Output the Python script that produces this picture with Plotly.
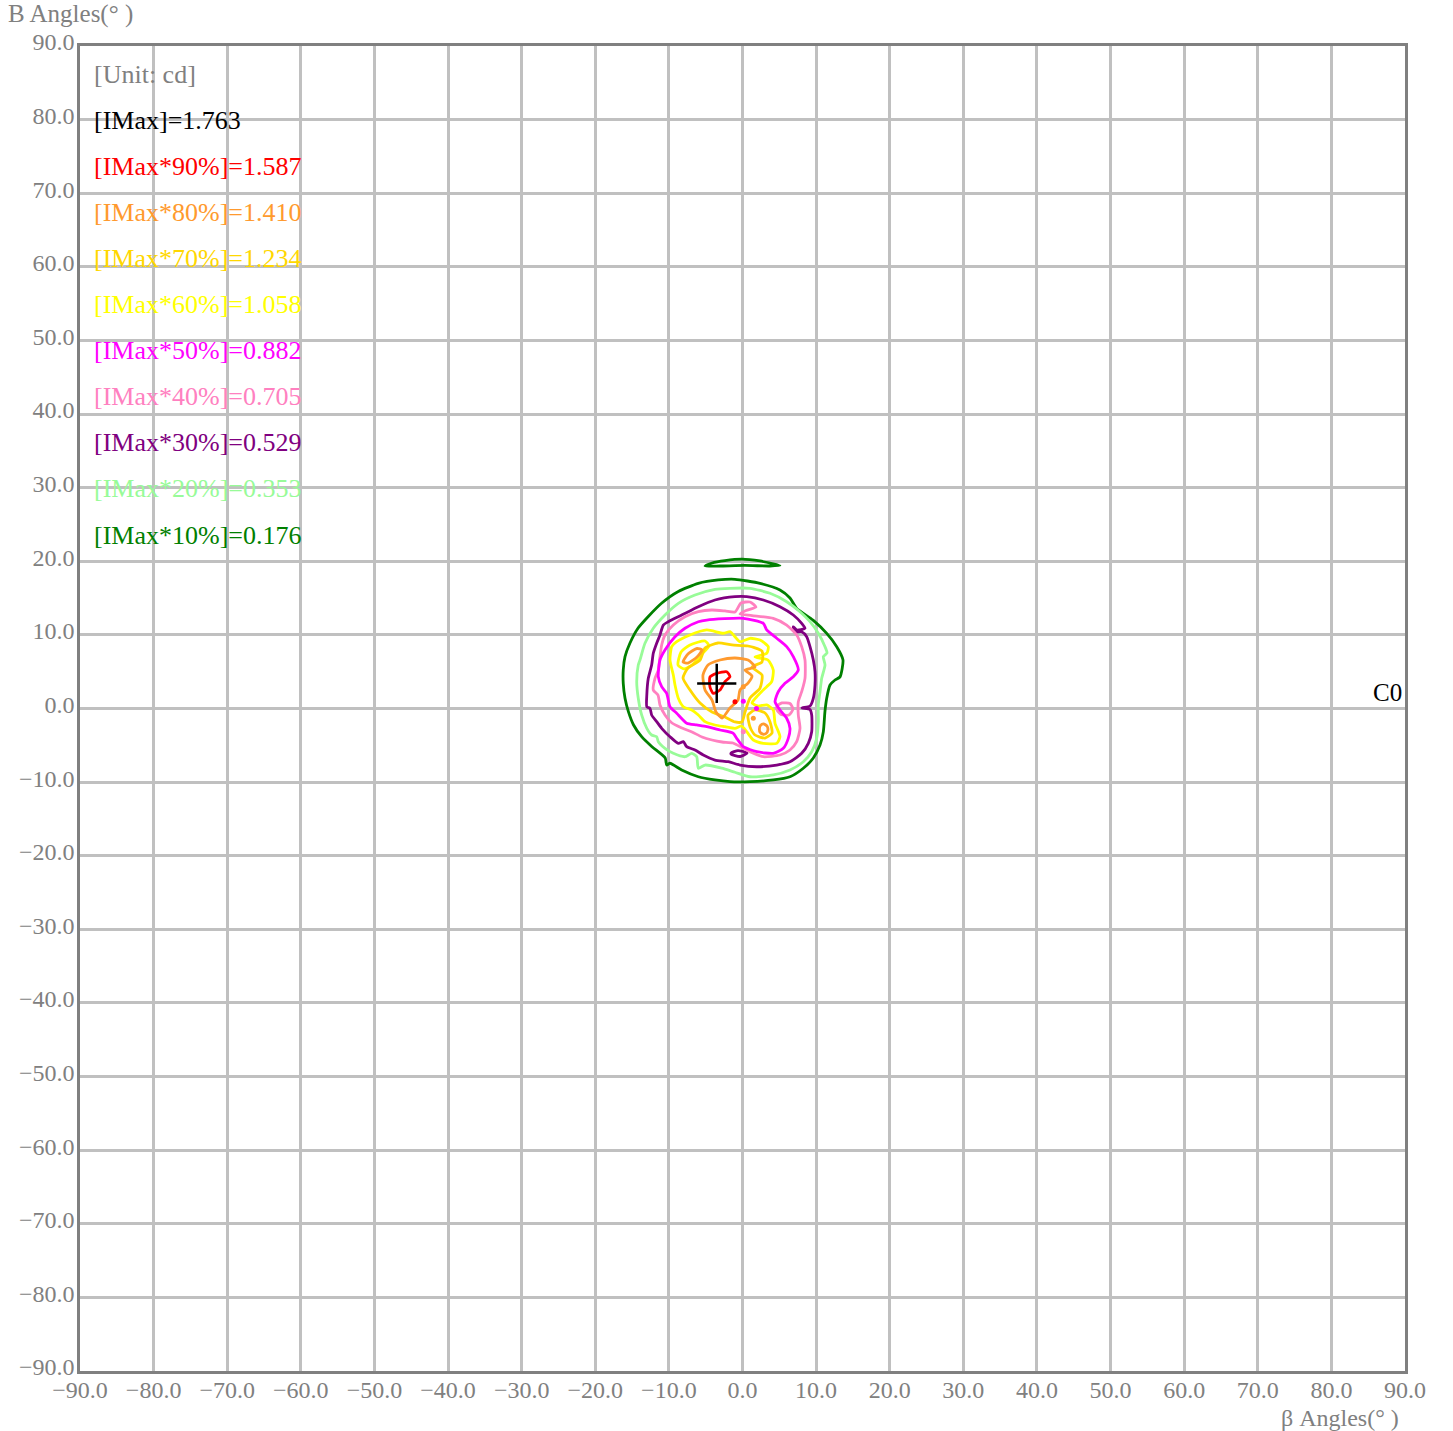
import plotly.graph_objects as go

# ---------------- data (degrees) ----------------
imax = 1.763
levels_pct = [90, 80, 70, 60, 50, 40, 30, 20, 10]
level_values = [1.587, 1.410, 1.234, 1.058, 0.882, 0.705, 0.529, 0.353, 0.176]
level_colors = ["#FF0000", "#FF9A2E", "#FFD700", "#FFFF00", "#FF00FF",
                "#FF80C0", "#800080", "#98FB98", "#008000"]
max_pos = (-3.5, 3.4)

# isocandela contour traces (beta, B)
iso10_main = [(-1.02, 17.55), (2.38, 17.0), (5.09, 16.1), (6.45, 15.01), (7.36, 13.6),
              (9.58, 12.0), (11.44, 10.2), (12.8, 8.4), (13.65, 6.6), (13.25, 4.3),
              (12.57, 3.87), (11.89, 3.19), (11.44, 1.39), (11.2, -0.43), (10.98, -3.15),
              (10.53, -4.96), (9.62, -6.72), (8.26, -8.12), (6.45, -9.27), (4.18, -9.71),
              (1.02, -9.94), (-1.7, -9.94), (-3.74, -9.71), (-6.0, -9.27), (-8.26, -8.35),
              (-9.85, -7.44), (-10.3, -7.68), (-10.5, -6.72), (-12.3, -5.19), (-13.7, -3.83),
              (-14.8, -2.24), (-15.5, -0.43), (-15.96, 1.39), (-16.2, 3.42), (-16.2, 5.23),
              (-15.96, 7.04), (-15.3, 8.86), (-14.2, 10.9), (-12.8, 12.5), (-11.0, 14.3),
              (-8.72, 15.9), (-6.0, 17.0), (-3.29, 17.46), (-1.02, 17.55)]
iso10_top = [(-5.09, 19.36), (-4.14, 19.77), (-2.38, 20.1), (-0.07, 20.3), (2.38, 20.04),
             (4.0, 19.7), (5.09, 19.43), (3.74, 19.36), (0.34, 19.43), (-3.06, 19.36),
             (-5.09, 19.36)]
iso20_main = [(-1.7, 16.33), (1.02, 16.33), (3.74, 15.65), (6.0, 14.51), (7.81, 13.15),
              (9.17, 11.79), (10.3, 10.22), (11.21, 8.4), (11.48, 7.54), (10.98, 7.04),
              (11.21, 5.91), (10.76, 4.1), (10.53, 2.28), (10.3, 0.48), (10.3, -1.79),
              (10.08, -4.05), (9.4, -5.87), (8.26, -7.23), (6.45, -8.36), (4.18, -9.03),
              (1.02, -9.27), (-1.02, -8.66), (-2.83, -8.1), (-5.09, -7.68), (-6.0, -8.12),
              (-6.22, -6.55), (-6.9, -6.09), (-7.81, -6.55), (-9.4, -6.09), (-10.53, -5.41),
              (-11.44, -4.51), (-11.66, -3.83), (-12.34, -3.6), (-13.0, -2.69), (-13.7, -0.88),
              (-14.16, 1.39), (-14.37, 3.64), (-14.16, 5.91), (-13.93, 6.59), (-13.25, 8.86),
              (-12.12, 10.9), (-10.53, 12.7), (-8.72, 14.29), (-6.45, 15.42), (-3.74, 16.19),
              (-1.7, 16.33)]
iso30_main = [(-1.02, 15.19), (0.57, 15.19), (2.83, 14.74), (5.09, 13.83), (6.9, 12.7),
              (8.04, 11.57), (8.49, 10.9), (7.36, 10.67), (6.9, 11.1), (7.13, 10.43),
              (8.04, 10.43), (8.72, 9.75), (9.17, 8.4), (9.62, 6.59), (9.85, 5.0),
              (9.85, 3.19), (9.62, 1.39), (9.17, 0.34), (8.08, 0.07), (9.17, -0.14),
              (9.4, -0.88), (9.4, -3.15), (8.94, -4.73), (8.04, -6.09), (6.45, -7.23),
              (4.65, -7.68), (1.93, -7.91), (-0.34, -7.68), (-1.93, -7.23), (-3.74, -7.0),
              (-5.33, -6.32), (-6.45, -5.64), (-7.58, -5.19), (-8.04, -4.51), (-8.72, -4.73),
              (-9.85, -3.83), (-10.98, -2.69), (-11.66, -1.79), (-12.34, -0.88), (-12.57, 0.03),
              (-13.0, 0.24), (-13.0, 1.83), (-12.8, 4.1), (-12.34, 5.91), (-12.12, 7.5),
              (-11.66, 8.86), (-11.21, 9.99), (-10.76, 11.34), (-10.08, 11.79), (-8.26, 12.7),
              (-6.0, 13.83), (-3.74, 14.74), (-1.02, 15.19)]
iso30_small = [(-1.56, -6.05), (-0.61, -5.71), (0.61, -6.05), (-0.34, -6.52),
               (-1.56, -6.2), (-1.56, -6.05)]
iso40_main = [(-6.0, 13.15), (-4.18, 13.38), (-2.38, 13.25), (-1.02, 13.11), (-0.2, 14.33),
              (1.02, 14.47), (1.83, 13.79), (0.48, 13.31), (-0.34, 12.84), (1.29, 12.63),
              (4.18, 12.25), (6.0, 11.34), (7.36, 9.99), (8.04, 8.4), (8.49, 6.59),
              (8.49, 4.1), (8.04, 2.28), (7.58, 0.92), (7.58, -0.88), (7.81, -2.69),
              (7.36, -4.51), (6.45, -5.64), (5.09, -6.32), (2.83, -6.55), (1.47, -6.09),
              (0.11, -5.41), (-1.29, -4.69), (-2.78, -4.55), (-4.14, -4.28), (-5.5, -3.87),
              (-6.86, -3.19), (-8.22, -2.65), (-9.58, -1.97), (-10.53, -0.88), (-11.21, 0.48),
              (-11.48, 1.83), (-12.12, 2.51), (-11.89, 4.1), (-11.44, 5.23), (-11.21, 7.04),
              (-10.98, 8.63), (-10.53, 9.99), (-9.4, 11.34), (-7.81, 12.47), (-6.0, 13.15)]
iso40_small = [(4.69, 0.34), (5.36, 0.75), (6.45, 0.68), (6.86, -0.07), (6.32, -0.88),
               (5.23, -0.82), (4.69, -0.2), (4.69, 0.34)]
iso50_main = [(-4.86, 12.02), (0.11, 12.25), (2.83, 11.57), (3.29, 10.67), (4.65, 9.54),
              (6.0, 8.4), (6.9, 7.04), (7.58, 5.23), (6.9, 4.32), (5.77, 3.42),
              (4.86, 2.28), (4.42, 0.92), (5.09, -0.2), (6.0, -1.33), (6.45, -2.69),
              (6.22, -4.05), (5.54, -5.41), (4.18, -6.09), (1.93, -5.87), (0.11, -5.19),
              (-0.79, -4.05), (-1.25, -3.37), (-3.06, -2.92), (-4.86, -2.47), (-6.22, -2.24),
              (-7.58, -2.01), (-8.94, -0.65), (-9.85, 0.24), (-10.3, 2.06), (-10.98, 2.96),
              (-11.44, 4.32), (-11.21, 6.59), (-10.53, 7.95), (-9.17, 9.75), (-7.81, 10.9),
              (-6.0, 11.79), (-4.86, 12.02)]
iso60_main = [(-9.62, 8.4), (-8.94, 9.07), (-7.13, 9.99), (-4.86, 10.67), (-2.61, 10.22),
              (-1.7, 10.43), (-1.02, 9.75), (-0.34, 9.07), (1.02, 9.54), (2.38, 9.31),
              (3.5, 8.4), (3.29, 7.5), (1.7, 7.0), (3.46, 6.59), (4.18, 5.23),
              (3.97, 3.64), (3.29, 2.96), (1.93, 1.6), (1.29, 0.75), (2.11, 0.34),
              (3.29, 0.48), (4.18, -0.2), (4.42, -2.01), (5.09, -3.83), (4.65, -4.73),
              (2.83, -4.73), (1.47, -4.28), (0.57, -3.15), (-0.11, -2.38), (-1.02, -2.69),
              (-2.38, -2.47), (-3.74, -2.24), (-5.09, -1.79), (-6.0, -0.88), (-6.9, -0.2),
              (-8.04, 0.24), (-8.72, 1.39), (-9.17, 3.19), (-9.4, 4.55), (-9.85, 6.59),
              (-9.62, 8.4)]
iso60_finger = [(-8.76, 5.91), (-8.35, 7.68), (-7.13, 8.63), (-5.09, 9.17), (-4.56, 8.49),
                (-5.77, 7.13), (-6.86, 5.91), (-7.95, 5.37), (-8.76, 5.91)]
iso70_main = [(-8.08, 4.14), (-7.41, 5.5), (-5.77, 6.59), (-5.09, 8.22), (-3.33, 8.9),
              (-1.43, 8.63), (0.75, 8.49), (2.65, 7.81), (2.65, 6.32), (1.29, 5.64),
              (2.65, 4.55), (2.38, 2.78), (1.02, 1.43), (0.34, -0.48), (-0.07, -1.83),
              (-1.02, -1.83), (-2.38, -1.15), (-4.14, -0.48), (-5.77, 0.75), (-7.13, 2.51),
              (-8.08, 4.14)]
iso70_lobe = [(0.75, -0.88), (1.7, -0.2), (3.06, -0.61), (3.74, -1.83), (4.01, -3.33),
              (3.06, -4.01), (1.7, -3.6), (1.02, -2.51), (0.75, -0.88)]
iso80_main = [(-5.37, 4.55), (-4.69, 5.91), (-3.06, 6.59), (-1.02, 6.86), (0.75, 6.59),
              (1.7, 5.64), (0.34, 5.23), (1.29, 4.42), (0.75, 3.46), (-0.34, 2.51),
              (-0.61, 1.15), (-1.7, 0.07), (-2.78, -1.29), (-3.6, -0.48), (-4.14, 1.15),
              (-5.09, 2.51), (-5.37, 4.55)]
iso80_ellipse = [(-8.08, 6.32), (-7.41, 7.41), (-6.18, 8.15), (-5.5, 7.95), (-6.18, 7.0),
                 (-7.41, 6.18), (-8.08, 6.32)]
iso80_ring = [(2.85, -2.08), (3.35, -2.4), (3.45, -2.9), (3.2, -3.4), (2.85, -3.5),
              (2.4, -3.25), (2.3, -2.75), (2.45, -2.3), (2.85, -2.08)]
iso90_main = [(-4.42, 4.28), (-3.5, 4.78), (-2.15, 5.0), (-1.7, 4.32), (-2.38, 3.64),
              (-3.06, 2.51), (-3.97, 2.06), (-4.42, 2.92), (-4.42, 4.28)]

# tiny closed contours (islands)
dots = [((0.11, 1.0), "#FF00FF"), ((1.9, 0.0), "#FF00FF"), ((0.11, -3.15), "#FF80C0"),
        ((0.11, 2.96), "#FF9A2E"), ((1.47, -1.33), "#FF9A2E"), ((-1.02, 0.92), "#FF0000")]

contours = [
    (iso10_main, "#008000"), (iso10_top, "#008000"),
    (iso20_main, "#98FB98"),
    (iso30_main, "#800080"), (iso30_small, "#800080"),
    (iso40_main, "#FF80C0"), (iso40_small, "#FF80C0"),
    (iso50_main, "#FF00FF"),
    (iso60_main, "#FFFF00"), (iso60_finger, "#FFFF00"),
    (iso70_main, "#FFD700"), (iso70_lobe, "#FFD700"),
    (iso80_main, "#FF9A2E"), (iso80_ellipse, "#FF9A2E"), (iso80_ring, "#FF9A2E"),
    (iso90_main, "#FF0000"),
]

ticks = list(range(-90, 91, 10))
tick_text = [f"{v:.1f}".replace("-", "\u2212") for v in ticks]

FONT = "Liberation Serif"
GREY = "#808080"

W, H = 1453, 1431
ML, MR, MT, MB = 80, 48, 46, 60
PH = H - MT - MB  # plot height in px

fig = go.Figure()
for pts, col in contours:
    fig.add_trace(go.Scatter(
        x=[p[0] for p in pts], y=[p[1] for p in pts], mode="lines",
        line=dict(color=col, width=2.8, shape="spline", smoothing=0.6),
        hoverinfo="skip", showlegend=False))
for (px, py), col in dots:
    fig.add_trace(go.Scatter(x=[px], y=[py], mode="markers",
                             marker=dict(color=col, size=5),
                             hoverinfo="skip", showlegend=False))
fig.add_trace(go.Scatter(x=[max_pos[0]], y=[max_pos[1]], mode="markers",
                         marker=dict(symbol="cross-thin", size=28,
                                     line=dict(color="black", width=2.5)),
                         hoverinfo="skip", showlegend=False))

# legend text block
legend_lines = [("[Unit: cd]", GREY), (f"[IMax]={imax:.3f}", "black")]
for pct, val, col in zip(levels_pct, level_values, level_colors):
    legend_lines.append((f"[IMax*{pct}%]={val:.3f}", col))
for i, (txt, col) in enumerate(legend_lines):
    fig.add_annotation(x=0, y=1 - (28 + 46.1 * i) / PH, xref="paper", yref="paper",
                       text=txt, showarrow=False, xanchor="left", yanchor="middle",
                       xshift=12, font=dict(family=FONT, size=26, color=col))

fig.add_annotation(x=1.0, y=0, xref="paper", yref="y", text="C0", showarrow=False,
                   xanchor="right", yanchor="bottom", xshift=-1, yshift=1,
                   font=dict(family=FONT, size=25, color="black"))
fig.add_annotation(x=0, y=1 + 32 / PH, xref="paper", yref="paper",
                   text="B Angles(° )", showarrow=False, xanchor="left", yanchor="middle",
                   xshift=-74, font=dict(family=FONT, size=25, color=GREY))
fig.add_annotation(x=1.0, y=-47 / PH, xref="paper", yref="paper",
                   text="β Angles(° )", showarrow=False, xanchor="right", yanchor="middle",
                   xshift=-4, font=dict(family=FONT, size=24, color=GREY))

axis_common = dict(range=[-90, 90], tickvals=ticks, ticktext=tick_text, showgrid=True,
                   gridcolor="#C0C0C0", gridwidth=2.5, zeroline=False, showline=True,
                   linecolor=GREY, linewidth=2.5, mirror=True, ticks="", automargin=False,
                   tickfont=dict(family=FONT, size=24, color=GREY), fixedrange=True)
fig.update_xaxes(**axis_common, ticklabelstandoff=-5)
fig.update_yaxes(**axis_common, ticklabelstandoff=-2, ticklabelshift=-4)
fig.update_layout(width=W, height=H, margin=dict(l=ML, r=MR, t=MT, b=MB, autoexpand=False),
                  plot_bgcolor="white", paper_bgcolor="white", showlegend=False)
fig.write_html("out.html", config={"displayModeBar": False},
               post_script="document.body.style.margin='0px';document.body.style.overflow='hidden';")
